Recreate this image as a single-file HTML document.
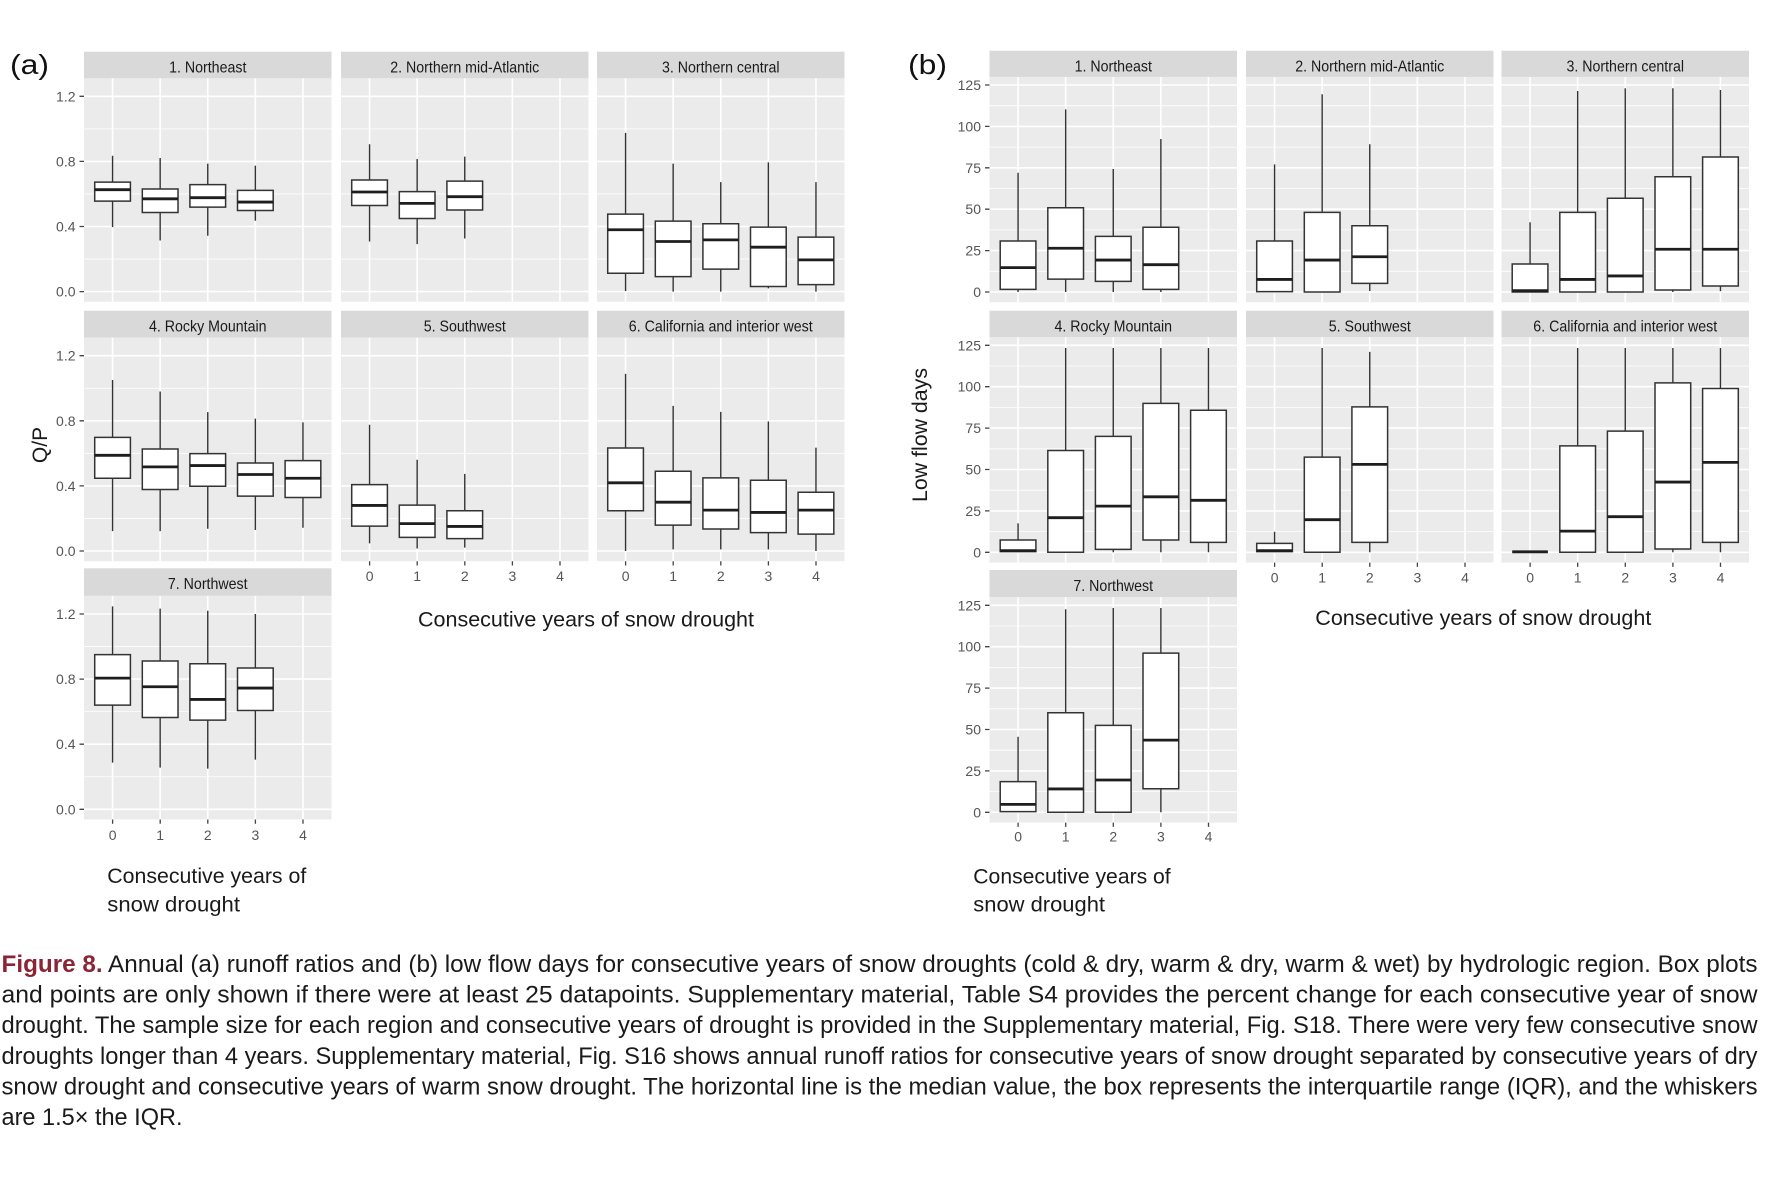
<!DOCTYPE html>
<html><head><meta charset="utf-8"><style>
html,body{margin:0;padding:0;background:#fff;}
svg{display:block;}
text{font-family:"Liberation Sans",Arial,sans-serif;}
.gmaj{stroke:#fff;stroke-width:1.6;fill:none;vector-effect:non-scaling-stroke;}
.gmin{stroke:#fff;stroke-width:0.8;fill:none;vector-effect:non-scaling-stroke;}
.bx rect{fill:#fff;stroke:#333;stroke-width:1.5;vector-effect:non-scaling-stroke;}
.bx path{stroke:#333;stroke-width:1.4;fill:none;vector-effect:non-scaling-stroke;}
.bx path.m{stroke:#1e1e1e;stroke-width:2.8;}
.strip{fill:#d9d9d9;}
.st{font-size:16px;fill:#1a1a1a;text-anchor:middle;}
.yt{font-size:14px;fill:#555;text-anchor:end;}
.xt{font-size:14px;fill:#555;text-anchor:middle;}
.tk{stroke:#444;stroke-width:1.3;fill:none;}
.lab{font-size:21px;fill:#1a1a1a;}
.cap{font-size:24px;fill:#1a1a1a;}
</style></head><body>
<svg width="1782" height="1179" viewBox="0 0 1782 1179" xmlns="http://www.w3.org/2000/svg">
<defs>
<g id="gA">
<rect x="-0.6" y="-0.0625" width="5.2" height="1.375" fill="#ebebeb"/>
<path class="gmin" d="M-0.6 0.2H4.6M-0.6 0.6H4.6M-0.6 1H4.6"/>
<path class="gmaj" d="M-0.6 0H4.6M-0.6 0.4H4.6M-0.6 0.8H4.6M-0.6 1.2H4.6M0 -0.0625V1.3125M1 -0.0625V1.3125M2 -0.0625V1.3125M3 -0.0625V1.3125M4 -0.0625V1.3125"/>
</g>
<g id="gB">
<rect x="-0.6" y="-6.2" width="5.2" height="136.3" fill="#ebebeb"/>
<path class="gmin" d="M-0.6 12.5H4.6M-0.6 37.5H4.6M-0.6 62.5H4.6M-0.6 87.5H4.6M-0.6 112.5H4.6"/>
<path class="gmaj" d="M-0.6 0H4.6M-0.6 25H4.6M-0.6 50H4.6M-0.6 75H4.6M-0.6 100H4.6M-0.6 125H4.6M0 -6.2V130.1M1 -6.2V130.1M2 -6.2V130.1M3 -6.2V130.1M4 -6.2V130.1"/>
</g>
</defs>

<!-- ================= (a) ================= -->
<text x="10" y="74" font-size="28" fill="#111" textLength="39" lengthAdjust="spacingAndGlyphs">(a)</text>

<!-- P1 -->
<g class="bx" transform="translate(112.56,291.6) scale(47.6,-162.76)">
<use href="#gA"/>
<path d="M0 .396V.556M0 .673V.835"/><rect x="-.375" y=".556" width=".75" height=".117"/><path class="m" d="M-.375 .626H.375"/>
<path d="M1 .314V.486M1 .630V.821"/><rect x=".625" y=".486" width=".75" height=".144"/><path class="m" d="M.625 .570H1.375"/>
<path d="M2 .343V.519M2 .657V.786"/><rect x="1.625" y=".519" width=".75" height=".138"/><path class="m" d="M1.625 .577H2.375"/>
<path d="M3 .435V.498M3 .622V.774"/><rect x="2.625" y=".498" width=".75" height=".124"/><path class="m" d="M2.625 .550H3.375"/>
</g>
<!-- P2 -->
<g class="bx" transform="translate(369.56,291.6) scale(47.6,-162.76)">
<use href="#gA"/>
<path d="M0 .308V.529M0 .686V.905"/><rect x="-.375" y=".529" width=".75" height=".157"/><path class="m" d="M-.375 .612H.375"/>
<path d="M1 .292V.449M1 .614V.815"/><rect x=".625" y=".449" width=".75" height=".165"/><path class="m" d="M.625 .542H1.375"/>
<path d="M2 .326V.501M2 .679V.829"/><rect x="1.625" y=".501" width=".75" height=".178"/><path class="m" d="M1.625 .583H2.375"/>
</g>
<!-- P3 -->
<g class="bx" transform="translate(625.56,291.6) scale(47.6,-162.76)">
<use href="#gA"/>
<path d="M0 .004V.113M0 .476V.975"/><rect x="-.375" y=".113" width=".75" height=".363"/><path class="m" d="M-.375 .380H.375"/>
<path d="M1 0V.092M1 .433V.786"/><rect x=".625" y=".092" width=".75" height=".341"/><path class="m" d="M.625 .308H1.375"/>
<path d="M2 0V.138M2 .417V.673"/><rect x="1.625" y=".138" width=".75" height=".279"/><path class="m" d="M1.625 .318H2.375"/>
<path d="M3 .02V.031M3 .396V.794"/><rect x="2.625" y=".031" width=".75" height=".365"/><path class="m" d="M2.625 .273H3.375"/>
<path d="M4 0V.043M4 .335V.673"/><rect x="3.625" y=".043" width=".75" height=".292"/><path class="m" d="M3.625 .195H4.375"/>
</g>
<!-- P4 -->
<g class="bx" transform="translate(112.56,551) scale(47.6,-162.76)">
<use href="#gA"/>
<path d="M0 .122V.447M0 .698V1.051"/><rect x="-.375" y=".447" width=".75" height=".251"/><path class="m" d="M-.375 .588H.375"/>
<path d="M1 .122V.378M1 .627V.980"/><rect x=".625" y=".378" width=".75" height=".249"/><path class="m" d="M.625 .517H1.375"/>
<path d="M2 .137V.398M2 .598V.853"/><rect x="1.625" y=".398" width=".75" height=".2"/><path class="m" d="M1.625 .525H2.375"/>
<path d="M3 .129V.337M3 .541V.813"/><rect x="2.625" y=".337" width=".75" height=".204"/><path class="m" d="M2.625 .470H3.375"/>
<path d="M4 .143V.329M4 .555V.790"/><rect x="3.625" y=".329" width=".75" height=".226"/><path class="m" d="M3.625 .447H4.375"/>
</g>
<!-- P5 -->
<g class="bx" transform="translate(369.56,551) scale(47.6,-162.76)">
<use href="#gA"/>
<path d="M0 .047V.153M0 .408V.776"/><rect x="-.375" y=".153" width=".75" height=".255"/><path class="m" d="M-.375 .280H.375"/>
<path d="M1 .015V.084M1 .282V.561"/><rect x=".625" y=".084" width=".75" height=".198"/><path class="m" d="M.625 .168H1.375"/>
<path d="M2 .021V.076M2 .247V.474"/><rect x="1.625" y=".076" width=".75" height=".171"/><path class="m" d="M1.625 .151H2.375"/>
</g>
<!-- P6 -->
<g class="bx" transform="translate(625.56,551) scale(47.6,-162.76)">
<use href="#gA"/>
<path d="M0 0V.247M0 .633V1.088"/><rect x="-.375" y=".247" width=".75" height=".386"/><path class="m" d="M-.375 .419H.375"/>
<path d="M1 .01V.159M1 .490V.892"/><rect x=".625" y=".159" width=".75" height=".331"/><path class="m" d="M.625 .300H1.375"/>
<path d="M2 .01V.135M2 .449V.855"/><rect x="1.625" y=".135" width=".75" height=".314"/><path class="m" d="M1.625 .251H2.375"/>
<path d="M3 .01V.113M3 .435V.796"/><rect x="2.625" y=".113" width=".75" height=".322"/><path class="m" d="M2.625 .237H3.375"/>
<path d="M4 0V.104M4 .361V.635"/><rect x="3.625" y=".104" width=".75" height=".257"/><path class="m" d="M3.625 .251H4.375"/>
</g>
<!-- P7 -->
<g class="bx" transform="translate(112.56,809.3) scale(47.6,-162.76)">
<use href="#gA"/>
<path d="M0 .287V.640M0 .950V1.247"/><rect x="-.375" y=".640" width=".75" height=".31"/><path class="m" d="M-.375 .806H.375"/>
<path d="M1 .256V.564M1 .911V1.233"/><rect x=".625" y=".564" width=".75" height=".347"/><path class="m" d="M.625 .753H1.375"/>
<path d="M2 .250V.548M2 .894V1.220"/><rect x="1.625" y=".548" width=".75" height=".346"/><path class="m" d="M1.625 .675H2.375"/>
<path d="M3 .305V.607M3 .868V1.2"/><rect x="2.625" y=".607" width=".75" height=".261"/><path class="m" d="M2.625 .745H3.375"/>
</g>

<!-- strips (a) -->
<rect class="strip" x="84" y="51.7" width="247.5" height="26.5"/>
<rect class="strip" x="341" y="51.7" width="247.5" height="26.5"/>
<rect class="strip" x="597" y="51.7" width="247.5" height="26.5"/>
<rect class="strip" x="84" y="310.7" width="247.5" height="26.8"/>
<rect class="strip" x="341" y="310.7" width="247.5" height="26.8"/>
<rect class="strip" x="597" y="310.7" width="247.5" height="26.8"/>
<rect class="strip" x="84" y="568.3" width="247.5" height="27.5"/>
<text class="st" x="207.75" y="72.5" textLength="77.3" lengthAdjust="spacingAndGlyphs">1. Northeast</text>
<text class="st" x="464.75" y="72.5" textLength="149" lengthAdjust="spacingAndGlyphs">2. Northern mid-Atlantic</text>
<text class="st" x="720.75" y="72.5" textLength="117.6" lengthAdjust="spacingAndGlyphs">3. Northern central</text>
<text class="st" x="207.75" y="331.5" textLength="117.6" lengthAdjust="spacingAndGlyphs">4. Rocky Mountain</text>
<text class="st" x="464.75" y="331.5" textLength="82.1" lengthAdjust="spacingAndGlyphs">5. Southwest</text>
<text class="st" x="720.75" y="331.5" textLength="183.9" lengthAdjust="spacingAndGlyphs">6. California and interior west</text>
<text class="st" x="207.75" y="589.1" textLength="79.7" lengthAdjust="spacingAndGlyphs">7. Northwest</text>

<!-- y axis (a) -->
<path class="tk" d="M79.5 291.6H84M79.5 226.5H84M79.5 161.4H84M79.5 96.3H84M79.5 551H84M79.5 485.9H84M79.5 420.8H84M79.5 355.7H84M79.5 809.3H84M79.5 744.2H84M79.5 679.1H84M79.5 614H84"/>
<text class="yt" x="75.5" y="296.6">0.0</text><text class="yt" x="75.5" y="231.5">0.4</text><text class="yt" x="75.5" y="166.4">0.8</text><text class="yt" x="75.5" y="101.3">1.2</text>
<text class="yt" x="75.5" y="556">0.0</text><text class="yt" x="75.5" y="490.9">0.4</text><text class="yt" x="75.5" y="425.8">0.8</text><text class="yt" x="75.5" y="360.7">1.2</text>
<text class="yt" x="75.5" y="814.3">0.0</text><text class="yt" x="75.5" y="749.2">0.4</text><text class="yt" x="75.5" y="684.1">0.8</text><text class="yt" x="75.5" y="619">1.2</text>
<text class="lab" transform="translate(47,445) rotate(-90)" text-anchor="middle" font-size="20">Q/P</text>

<!-- x axis (a) -->
<path class="tk" d="M369.6 561.2V565.5M417.2 561.2V565.5M464.8 561.2V565.5M512.4 561.2V565.5M560 561.2V565.5M625.6 561.2V565.5M673.2 561.2V565.5M720.8 561.2V565.5M768.4 561.2V565.5M816 561.2V565.5M112.6 819.5V823.8M160.2 819.5V823.8M207.8 819.5V823.8M255.4 819.5V823.8M303 819.5V823.8"/>
<text class="xt" x="369.6" y="581">0</text><text class="xt" x="417.2" y="581">1</text><text class="xt" x="464.8" y="581">2</text><text class="xt" x="512.4" y="581">3</text><text class="xt" x="560" y="581">4</text>
<text class="xt" x="625.6" y="581">0</text><text class="xt" x="673.2" y="581">1</text><text class="xt" x="720.8" y="581">2</text><text class="xt" x="768.4" y="581">3</text><text class="xt" x="816" y="581">4</text>
<text class="xt" x="112.6" y="840">0</text><text class="xt" x="160.2" y="840">1</text><text class="xt" x="207.8" y="840">2</text><text class="xt" x="255.4" y="840">3</text><text class="xt" x="303" y="840">4</text>
<text class="lab" x="418" y="626.5" textLength="336" lengthAdjust="spacingAndGlyphs">Consecutive years of snow drought</text>
<text class="lab" x="107.3" y="883" textLength="199" lengthAdjust="spacingAndGlyphs">Consecutive years of</text>
<text class="lab" x="107.3" y="911.5" textLength="132.7" lengthAdjust="spacingAndGlyphs">snow drought</text>

<!-- ================= (b) ================= -->
<text x="908" y="74" font-size="28" fill="#111" textLength="39" lengthAdjust="spacingAndGlyphs">(b)</text>

<!-- B1 -->
<g class="bx" transform="translate(1018.06,292) scale(47.6,-1.656)">
<use href="#gB"/>
<path d="M0 0V1.6M0 30.8V72"/><rect x="-.375" y="1.6" width=".75" height="29.2"/><path class="m" d="M-.375 14.7H.375"/>
<path d="M1 0V7.8M1 50.9V110.3"/><rect x=".625" y="7.8" width=".75" height="43.1"/><path class="m" d="M.625 26.4H1.375"/>
<path d="M2 0V6.4M2 33.6V74.3"/><rect x="1.625" y="6.4" width=".75" height="27.2"/><path class="m" d="M1.625 19.3H2.375"/>
<path d="M3 0V1.6M3 39.1V92.4"/><rect x="2.625" y="1.6" width=".75" height="37.5"/><path class="m" d="M2.625 16.5H3.375"/>
</g>
<!-- B2 -->
<g class="bx" transform="translate(1274.56,292) scale(47.6,-1.656)">
<use href="#gB"/>
<path d="M0 0V0.2M0 30.8V77.1"/><rect x="-.375" y="0.2" width=".75" height="30.6"/><path class="m" d="M-.375 7.6H.375"/>
<path d="M1 48.1V119.4"/><rect x=".625" y="0" width=".75" height="48.1"/><path class="m" d="M.625 19.3H1.375"/>
<path d="M2 0.6V5.2M2 40V89.2"/><rect x="1.625" y="5.2" width=".75" height="34.8"/><path class="m" d="M1.625 21.3H2.375"/>
</g>
<!-- B3 -->
<g class="bx" transform="translate(1530.06,292) scale(47.6,-1.656)">
<use href="#gB"/>
<path d="M0 16.9V42.1"/><rect x="-.375" y="0" width=".75" height="16.9"/><path class="m" d="M-.375 0.8H.375"/>
<path d="M1 48.1V121.4"/><rect x=".625" y="0" width=".75" height="48.1"/><path class="m" d="M.625 7.6H1.375"/>
<path d="M2 56.6V123"/><rect x="1.625" y="0" width=".75" height="56.6"/><path class="m" d="M1.625 9.7H2.375"/>
<path d="M3 0V1.2M3 69.6V123"/><rect x="2.625" y="1.2" width=".75" height="68.4"/><path class="m" d="M2.625 25.8H3.375"/>
<path d="M4 0.5V3.6M4 81.5V122"/><rect x="3.625" y="3.6" width=".75" height="77.9"/><path class="m" d="M3.625 25.8H4.375"/>
</g>
<!-- B4 -->
<g class="bx" transform="translate(1018.06,552.3) scale(47.6,-1.656)">
<use href="#gB"/>
<path d="M0 7.4V17.5"/><rect x="-.375" y="0.4" width=".75" height="7"/><path class="m" d="M-.375 1H.375"/>
<path d="M1 61.5V123.4"/><rect x=".625" y="0" width=".75" height="61.5"/><path class="m" d="M.625 20.9H1.375"/>
<path d="M2 0V1.8M2 70V123.4"/><rect x="1.625" y="1.8" width=".75" height="68.2"/><path class="m" d="M1.625 27.9H2.375"/>
<path d="M3 0V7.4M3 89.9V123.4"/><rect x="2.625" y="7.4" width=".75" height="82.5"/><path class="m" d="M2.625 33.5H3.375"/>
<path d="M4 0V6M4 85.8V123.4"/><rect x="3.625" y="6" width=".75" height="79.8"/><path class="m" d="M3.625 31.4H4.375"/>
</g>
<!-- B5 -->
<g class="bx" transform="translate(1274.56,552.3) scale(47.6,-1.656)">
<use href="#gB"/>
<path d="M0 5.4V12.4"/><rect x="-.375" y="0.4" width=".75" height="5"/><path class="m" d="M-.375 1H.375"/>
<path d="M1 57.5V123.4"/><rect x=".625" y="0" width=".75" height="57.5"/><path class="m" d="M.625 19.7H1.375"/>
<path d="M2 0V6M2 87.8V121"/><rect x="1.625" y="6" width=".75" height="81.8"/><path class="m" d="M1.625 53.1H2.375"/>
</g>
<!-- B6 -->
<g class="bx" transform="translate(1530.06,552.3) scale(47.6,-1.656)">
<use href="#gB"/>
<path class="m" d="M-.375 0.3H.375"/>
<path d="M1 64.3V123.4"/><rect x=".625" y="0" width=".75" height="64.3"/><path class="m" d="M.625 12.8H1.375"/>
<path d="M2 73.2V123.4"/><rect x="1.625" y="0" width=".75" height="73.2"/><path class="m" d="M1.625 21.5H2.375"/>
<path d="M3 0V2M3 102.3V123.4"/><rect x="2.625" y="2" width=".75" height="100.3"/><path class="m" d="M2.625 42.4H3.375"/>
<path d="M4 0V6M4 98.9V123.4"/><rect x="3.625" y="6" width=".75" height="92.9"/><path class="m" d="M3.625 54.3H4.375"/>
</g>
<!-- B7 -->
<g class="bx" transform="translate(1018.06,812.3) scale(47.6,-1.656)">
<use href="#gB"/>
<path d="M0 18.5V45.6"/><rect x="-.375" y="0.4" width=".75" height="18.1"/><path class="m" d="M-.375 4.8H.375"/>
<path d="M1 60.1V122.6"/><rect x=".625" y="0" width=".75" height="60.1"/><path class="m" d="M.625 14.1H1.375"/>
<path d="M2 52.5V123.4"/><rect x="1.625" y="0" width=".75" height="52.5"/><path class="m" d="M1.625 19.5H2.375"/>
<path d="M3 0V14.2M3 96.1V123.4"/><rect x="2.625" y="14.2" width=".75" height="81.9"/><path class="m" d="M2.625 43.6H3.375"/>
</g>

<!-- strips (b) -->
<rect class="strip" x="989.5" y="50.7" width="247.5" height="26.2"/>
<rect class="strip" x="1246" y="50.7" width="247.5" height="26.2"/>
<rect class="strip" x="1501.5" y="50.7" width="247.5" height="26.2"/>
<rect class="strip" x="989.5" y="310.7" width="247.5" height="26.4"/>
<rect class="strip" x="1246" y="310.7" width="247.5" height="26.4"/>
<rect class="strip" x="1501.5" y="310.7" width="247.5" height="26.4"/>
<rect class="strip" x="989.5" y="570" width="247.5" height="27.1"/>
<text class="st" x="1113.25" y="71.5" textLength="77.3" lengthAdjust="spacingAndGlyphs">1. Northeast</text>
<text class="st" x="1369.75" y="71.5" textLength="149" lengthAdjust="spacingAndGlyphs">2. Northern mid-Atlantic</text>
<text class="st" x="1625.25" y="71.5" textLength="117.6" lengthAdjust="spacingAndGlyphs">3. Northern central</text>
<text class="st" x="1113.25" y="331.5" textLength="117.6" lengthAdjust="spacingAndGlyphs">4. Rocky Mountain</text>
<text class="st" x="1369.75" y="331.5" textLength="82.1" lengthAdjust="spacingAndGlyphs">5. Southwest</text>
<text class="st" x="1625.25" y="331.5" textLength="183.9" lengthAdjust="spacingAndGlyphs">6. California and interior west</text>
<text class="st" x="1113.25" y="590.8" textLength="79.7" lengthAdjust="spacingAndGlyphs">7. Northwest</text>

<!-- y axis (b) -->
<path class="tk" d="M985 292H989.5M985 250.6H989.5M985 209.2H989.5M985 167.8H989.5M985 126.4H989.5M985 85H989.5M985 552.3H989.5M985 510.9H989.5M985 469.5H989.5M985 428.1H989.5M985 386.7H989.5M985 345.3H989.5M985 812.3H989.5M985 770.9H989.5M985 729.5H989.5M985 688.1H989.5M985 646.7H989.5M985 605.3H989.5"/>
<text class="yt" x="981" y="297">0</text><text class="yt" x="981" y="255.6">25</text><text class="yt" x="981" y="214.2">50</text><text class="yt" x="981" y="172.8">75</text><text class="yt" x="981" y="131.4">100</text><text class="yt" x="981" y="90">125</text>
<text class="yt" x="981" y="557.3">0</text><text class="yt" x="981" y="515.9">25</text><text class="yt" x="981" y="474.5">50</text><text class="yt" x="981" y="433.1">75</text><text class="yt" x="981" y="391.7">100</text><text class="yt" x="981" y="350.3">125</text>
<text class="yt" x="981" y="817.3">0</text><text class="yt" x="981" y="775.9">25</text><text class="yt" x="981" y="734.5">50</text><text class="yt" x="981" y="693.1">75</text><text class="yt" x="981" y="651.7">100</text><text class="yt" x="981" y="610.3">125</text>
<text class="lab" transform="translate(927,435) rotate(-90)" text-anchor="middle" textLength="134" lengthAdjust="spacingAndGlyphs">Low flow days</text>

<!-- x axis (b) -->
<path class="tk" d="M1274.6 562.6V566.9M1322.2 562.6V566.9M1369.8 562.6V566.9M1417.4 562.6V566.9M1465 562.6V566.9M1530.1 562.6V566.9M1577.7 562.6V566.9M1625.3 562.6V566.9M1672.9 562.6V566.9M1720.5 562.6V566.9M1018.1 822.6V826.9M1065.7 822.6V826.9M1113.3 822.6V826.9M1160.9 822.6V826.9M1208.5 822.6V826.9"/>
<text class="xt" x="1274.6" y="582.3">0</text><text class="xt" x="1322.2" y="582.3">1</text><text class="xt" x="1369.8" y="582.3">2</text><text class="xt" x="1417.4" y="582.3">3</text><text class="xt" x="1465" y="582.3">4</text>
<text class="xt" x="1530.1" y="582.3">0</text><text class="xt" x="1577.7" y="582.3">1</text><text class="xt" x="1625.3" y="582.3">2</text><text class="xt" x="1672.9" y="582.3">3</text><text class="xt" x="1720.5" y="582.3">4</text>
<text class="xt" x="1018.1" y="841.7">0</text><text class="xt" x="1065.7" y="841.7">1</text><text class="xt" x="1113.3" y="841.7">2</text><text class="xt" x="1160.9" y="841.7">3</text><text class="xt" x="1208.5" y="841.7">4</text>
<text class="lab" x="1315.3" y="625" textLength="336" lengthAdjust="spacingAndGlyphs">Consecutive years of snow drought</text>
<text class="lab" x="973.3" y="883.3" textLength="197.4" lengthAdjust="spacingAndGlyphs">Consecutive years of</text>
<text class="lab" x="973.3" y="911.7" textLength="131.7" lengthAdjust="spacingAndGlyphs">snow drought</text>

<!-- ================= caption ================= -->
<text class="cap" x="1.5" y="972" textLength="1756" lengthAdjust="spacingAndGlyphs"><tspan fill="#8b2436" font-weight="bold">Figure 8.</tspan> Annual (a) runoff ratios and (b) low flow days for consecutive years of snow droughts (cold &amp; dry, warm &amp; dry, warm &amp; wet) by hydrologic region. Box plots</text>
<text class="cap" x="1.5" y="1002.6" textLength="1756" lengthAdjust="spacingAndGlyphs">and points are only shown if there were at least 25 datapoints. Supplementary material, Table S4 provides the percent change for each consecutive year of snow</text>
<text class="cap" x="1.5" y="1033.2" textLength="1756" lengthAdjust="spacingAndGlyphs">drought. The sample size for each region and consecutive years of drought is provided in the Supplementary material, Fig. S18. There were very few consecutive snow</text>
<text class="cap" x="1.5" y="1063.8" textLength="1756" lengthAdjust="spacingAndGlyphs">droughts longer than 4 years. Supplementary material, Fig. S16 shows annual runoff ratios for consecutive years of snow drought separated by consecutive years of dry</text>
<text class="cap" x="1.5" y="1094.4" textLength="1756" lengthAdjust="spacingAndGlyphs">snow drought and consecutive years of warm snow drought. The horizontal line is the median value, the box represents the interquartile range (IQR), and the whiskers</text>
<text class="cap" x="1.5" y="1125" textLength="181" lengthAdjust="spacingAndGlyphs">are 1.5× the IQR.</text>
</svg>
</body></html>
